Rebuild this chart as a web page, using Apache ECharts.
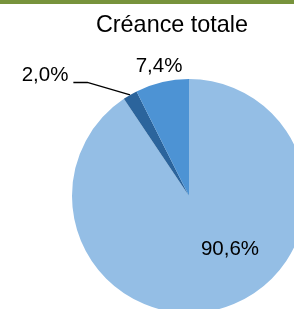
<!DOCTYPE html>
<html>
<head>
<meta charset="utf-8">
<script src="https://cdn.jsdelivr.net/npm/echarts@6/dist/echarts.min.js"></script>
<style>
  html, body { margin: 0; padding: 0; background: #fff; }
  #chart { width: 294px; height: 309px; position: relative; }
  #bar { position: absolute; left: 0; top: 0; width: 294px; height: 4px; background: #77933C; z-index: 5; }
</style>
</head>
<body>
<div id="chart"></div>
<div id="bar"></div>
<script>
const chartTitle = 'Créance totale';
const categories = ['Part 1', 'Part 2', 'Part 3'];
const values = [90.6, 2.0, 7.4];
const colors = ['#94BEE5', '#2B649C', '#4D93D4'];

const CX = 189, CY = 196, R = 117;
// label anchor offsets from the pie centre (visual text centre)
const labelOffsets = [[41, 53], [-144, -121], [-30, -130]];

const chart = echarts.init(document.getElementById('chart'), null, { renderer: 'canvas' });

const fmt = v => v.toFixed(1).replace('.', ',') + '%';

chart.setOption({
  animation: false,
  backgroundColor: '#ffffff',
  title: {
    text: chartTitle,
    left: 172,
    top: 14,
    padding: 0,
    textAlign: 'center',
    textStyle: { fontFamily: 'Liberation Sans, Arial, sans-serif', fontSize: 23.4, fontWeight: 'normal', color: '#000' }
  },
  series: [{
    type: 'pie',
    center: [CX, CY],
    radius: R,
    startAngle: 90,
    clockwise: true,
    avoidLabelOverlap: false,
    itemStyle: { borderWidth: 0 },
    label: {
      show: true,
      position: 'outside',
      formatter: p => fmt(p.value),
      fontFamily: 'Liberation Sans, Arial, sans-serif',
      fontSize: 20.5,
      color: '#000'
    },
    labelLine: { show: false },
    emphasis: { disabled: true },
    data: values.map((v, i) => ({
      name: categories[i],
      value: v,
      itemStyle: { color: colors[i] },
      labelLine: i === 1 ? { show: true, length: 20, length2: 15, lineStyle: { color: '#000', width: 1.3 } } : { show: false }
    })),
    labelLayout: function (params) {
      const i = params.dataIndex;
      const x = CX + labelOffsets[i][0];
      const y = CY + labelOffsets[i][1];
      const out = { x: x, y: y, align: 'center', verticalAlign: 'middle' };
      if (i === 1) {
        const w = params.labelRect.width;
        const endX = x + w / 2 + 5;
        const lineY = y + 7.5;
        const total = values.reduce((a, b) => a + b, 0);
        const before = values[0];
        const midFrac = (before + values[1] / 2) / total;
        const ang = Math.PI / 2 - midFrac * 2 * Math.PI;
        const sx = CX + R * Math.cos(ang);
        const sy = CY - R * Math.sin(ang);
        out.labelLinePoints = [[sx, sy], [endX + 14, lineY], [endX, lineY]];
      }
      return out;
    }
  }]
});
</script>
</body>
</html>
